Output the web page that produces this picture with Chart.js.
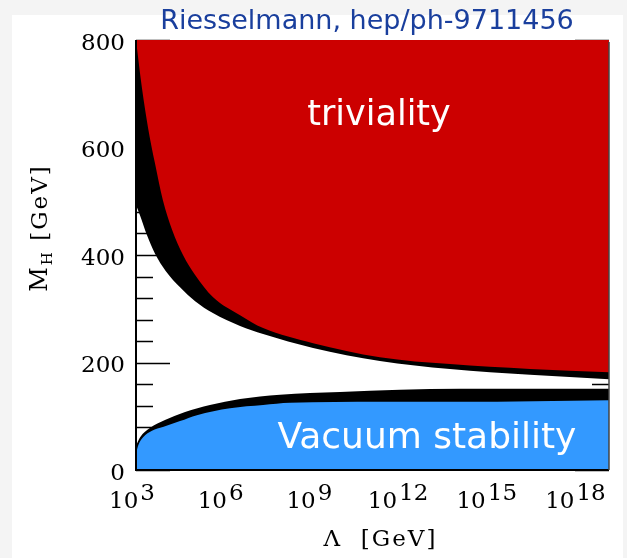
<!DOCTYPE html>
<html lang="en">
<head>
    <meta charset="UTF-8">
    <title>Higgs mass bounds</title>
    <script src="https://cdn.jsdelivr.net/npm/chart.js"></script>
    <style>
        body {
            margin: 0;
            background-color: #f4f4f4;
        }
        canvas {
            display: block;
        }
    </style>
</head>
<body>
    <canvas id="boundsChart" width="627" height="558"></canvas>

    <script>
        // log10(Lambda / GeV) and M_H in GeV for each boundary
        const trivEdgeX = [3.0, 3.2, 3.41, 3.64, 3.91, 4.22, 4.59, 5.0, 5.6, 6.52, 7.3, 8.99, 11.25, 13.62, 16.33, 19.0];
        const trivEdgeY = [800, 711, 636, 571, 502, 447, 400, 363, 322, 288, 264, 236, 210, 197, 188, 182];

        const trivBandX = [3.0, 3.14, 3.37, 3.64, 4.01, 4.49, 5.0, 5.6, 6.52, 7.3, 8.99, 11.25, 13.62, 16.33, 19.0];
        const trivBandY = [493, 473, 437, 403, 370, 340, 314, 292, 268, 253, 227, 203, 188, 177, 169];

        const stabBandX = [3.0, 3.14, 3.47, 3.98, 4.66, 5.5, 6.52, 7.87, 9.9, 13.96, 19.0];
        const stabBandY = [45, 61, 78, 93, 108, 121, 132, 140, 145, 151, 151];

        const stabEdgeX = [3.0, 3.07, 3.24, 3.54, 3.91, 4.49, 5.06, 6.18, 7.3, 8.21, 11.25, 13.96, 19.0];
        const stabEdgeY = [30, 45, 61, 73, 80, 91, 102, 115, 121, 125, 127, 127, 130];

        const xTickExps = [3, 6, 9, 12, 15, 18];
        const yTickLabels = [0, 200, 400, 600, 800];
        const yMinorStep = 40;

        function toPoints(xs, ys) {
            return xs.map((x, i) => ({ x: x, y: ys[i] }));
        }

        function region(xs, ys, color, fill, order) {
            return {
                data: toPoints(xs, ys),
                backgroundColor: color,
                borderColor: color,
                borderWidth: 0,
                pointRadius: 0,
                cubicInterpolationMode: "monotone",
                fill: fill,
                order: order
            };
        }

        const serif = "'DejaVu Serif', serif";
        const sans = "'DejaVu Sans', Verdana, sans-serif";

        // white panel, inner ticks, frame and all text
        const axesPlugin = {
            id: "axesPlugin",
            beforeDraw(chart) {
                const ctx = chart.ctx;
                ctx.save();
                ctx.fillStyle = "#ffffff";
                ctx.fillRect(12, 15, 611, 543);
                ctx.restore();
            },
            beforeDatasetsDraw(chart) {
                const ctx = chart.ctx;
                const area = chart.chartArea;
                const y = chart.scales.y;
                ctx.save();
                ctx.strokeStyle = "#000";
                ctx.lineWidth = 1.5;
                for (let v = 0; v <= 800; v += yMinorStep) {
                    const py = Math.round(y.getPixelForValue(v)) + 0.5;
                    const len = v % 200 === 0 ? 34 : 17;
                    ctx.beginPath();
                    ctx.moveTo(area.left, py);
                    ctx.lineTo(area.left + len, py);
                    ctx.moveTo(area.right, py);
                    ctx.lineTo(area.right - len, py);
                    ctx.stroke();
                }
                ctx.restore();
            },
            afterDatasetsDraw(chart) {
                const ctx = chart.ctx;
                const area = chart.chartArea;
                const x = chart.scales.x;
                const y = chart.scales.y;
                ctx.save();
                ctx.strokeStyle = "#000";
                ctx.lineWidth = 2;
                ctx.beginPath();
                ctx.moveTo(area.left, area.top);
                ctx.lineTo(area.left, area.bottom);
                ctx.lineTo(area.right, area.bottom);
                ctx.stroke();
                ctx.strokeStyle = "#444";
                ctx.lineWidth = 1.5;
                ctx.beginPath();
                ctx.moveTo(area.right, area.top + 2);
                ctx.lineTo(area.right, area.bottom);
                ctx.stroke();

                // y tick labels
                ctx.fillStyle = "#000";
                ctx.font = "23px " + serif;
                ctx.textAlign = "right";
                ctx.textBaseline = "middle";
                yTickLabels.forEach(v => {
                    ctx.fillText(String(v), area.left - 11, y.getPixelForValue(v) + 4);
                });

                // x tick labels: 10 with a raised exponent of the same size
                ctx.font = "23px " + serif;
                ctx.textAlign = "left";
                ctx.textBaseline = "alphabetic";
                x.ticks.forEach(t => {
                    const base = "10";
                    const exp = String(t.value);
                    const wb = ctx.measureText(base).width;
                    const we = ctx.measureText(exp).width;
                    const left = x.getPixelForValue(t.value) - 4 - (wb + 2 + we) / 2;
                    ctx.fillText(base, left, 508);
                    ctx.fillText(exp, left + wb + 2, 500);
                });

                // axis titles
                ctx.font = "23px " + serif;
                ctx.letterSpacing = "2px";
                ctx.textAlign = "center";
                ctx.fillText("\u039B  [GeV]", (area.left + area.right) / 2 + 8, 546);

                ctx.save();
                ctx.translate(47, 228);
                ctx.rotate(-Math.PI / 2);
                ctx.textAlign = "left";
                ctx.font = "24px " + serif;
                const wm = ctx.measureText("M").width;
                ctx.font = "15px " + serif;
                const wh = ctx.measureText("H").width;
                ctx.font = "23px " + serif;
                const wr = ctx.measureText(" [GeV]").width;
                const start = -(wm + wh + wr) / 2;
                ctx.font = "24px " + serif;
                ctx.fillText("M", start, 0);
                ctx.font = "15px " + serif;
                ctx.fillText("H", start + wm, 5);
                ctx.font = "23px " + serif;
                ctx.fillText(" [GeV]", start + wm + wh, 0);
                ctx.restore();
                ctx.letterSpacing = "0px";

                // region names
                ctx.fillStyle = "#ffffff";
                ctx.font = "35px " + sans;
                ctx.textAlign = "center";
                ctx.fillText("triviality", x.getPixelForValue(11.22), y.getPixelForValue(642));
                ctx.font = "36px " + sans;
                ctx.fillText("Vacuum stability", x.getPixelForValue(12.84), y.getPixelForValue(41));

                // reference line above the plot
                ctx.fillStyle = "#1a3f9d";
                ctx.font = "27px " + sans;
                ctx.fillText("Riesselmann, hep/ph-9711456", 367, 29);
                ctx.restore();
            }
        };

        new Chart(document.getElementById("boundsChart"), {
            type: "line",
            data: {
                datasets: [
                    region(trivEdgeX, trivEdgeY, "#cc0000", "end", 1),
                    region(trivBandX, trivBandY, "#000000", "end", 2),
                    region(stabEdgeX, stabEdgeY, "#3399ff", "start", 1),
                    region(stabBandX, stabBandY, "#000000", "start", 2)
                ]
            },
            options: {
                responsive: false,
                animation: false,
                layout: {
                    padding: { left: 136, right: 18, top: 40, bottom: 88 }
                },
                plugins: {
                    legend: { display: false },
                    tooltip: { enabled: false }
                },
                scales: {
                    x: {
                        type: "linear",
                        display: false,
                        min: 3,
                        max: 19,
                        afterBuildTicks: scale => {
                            scale.ticks = xTickExps.map(v => ({ value: v }));
                        }
                    },
                    y: {
                        display: false,
                        min: 0,
                        max: 800
                    }
                }
            },
            plugins: [axesPlugin]
        });
    </script>
</body>
</html>
